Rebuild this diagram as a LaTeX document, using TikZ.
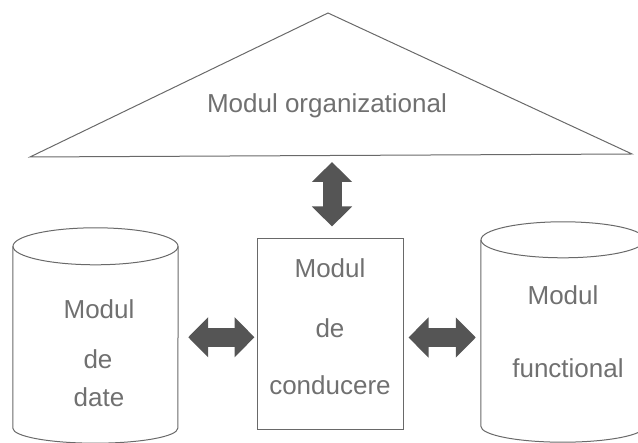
\documentclass[tikz,border=0pt]{standalone}
\usepackage{fontspec}
\setmainfont{Liberation Sans}
\usepackage{tikz}
\usetikzlibrary{arrows.meta,positioning}
\definecolor{linegray}{RGB}{105,105,105}
\definecolor{textgray}{RGB}{112,112,112}
\definecolor{arrowgray}{RGB}{85,85,85}

\begin{document}
\begin{tikzpicture}[x=1pt, y=-1pt,
    outline/.style={draw=linegray, line width=1pt},
    modtext/.style={text=textgray, font=\fontsize{26}{26}\selectfont, inner sep=0pt, anchor=base},
    bigarrow/.style={draw=arrowgray, line width=19pt,
        {Triangle[width=39pt,length=20pt]}-{Triangle[width=39pt,length=20pt]}}]
        \useasboundingbox (0,0) rectangle (638,443);
        \def\cylrx{82.5}

        % organizational module
        \coordinate (apex) at (328,13);
        \coordinate (baseL) at (30,157);
        \coordinate (baseR) at (632,154);
        \coordinate (orgbase) at (332,155.5);
        \draw[outline] (baseL) -- (apex) -- (baseR) -- cycle;
        \node(org) [modtext] at (327,113) {Modul organizational};

        % conducere module
        \node(cond) [rectangle, outline, minimum width = 146pt, minimum height = 191pt, inner sep=0pt] at (330,334.5) {};
        \node(condA) [modtext] at (330,278) {Modul};
        \node(condB) [modtext] at (330,338) {de};
        \node(condC) [modtext] at (330,395) {conducere};

        % data module
        \node(data) [rectangle, minimum width = 165pt, minimum height = 181.5pt, inner sep=0pt] at (95.5,337.25) {};
        \draw[outline] (data.north) ellipse [x radius=\cylrx, y radius=18.5];
        \draw[outline] (data.north west) -- (data.south west) arc[start angle=180, end angle=0, x radius=\cylrx, y radius=15] -- (data.north east);
        \node(dataA) [modtext] at (99,319) {Modul};
        \node(dataB) [modtext] at (98,369) {de};
        \node(dataC) [modtext] at (99,407) {date};

        % functional module
        \node(func) [rectangle, minimum width = 164pt, minimum height = 186pt, inner sep=0pt] at (563,333) {};
        \draw[outline] (func.north) ellipse [x radius=82, y radius=18];
        \draw[outline] (func.north west) -- (func.south west) arc[start angle=180, end angle=0, x radius=82, y radius=16] -- (func.north east);
        \node(funcA) [modtext] at (563,305) {Modul};
        \node(funcB) [modtext] at (568,378) {functional};

        % links
        \draw[bigarrow, shorten <=6.5pt, shorten >=12pt] (orgbase) -- (orgbase |- cond.north);
        \draw[bigarrow, shorten <=10pt, shorten >=2pt] (data.east) -- (data.east -| cond.west);
        \draw[bigarrow, shorten <=5pt, shorten >=5pt] ([yshift=-3pt]cond.east) -- ([yshift=-3pt]cond.east -| func.west);
    \end{tikzpicture}
\end{document}
